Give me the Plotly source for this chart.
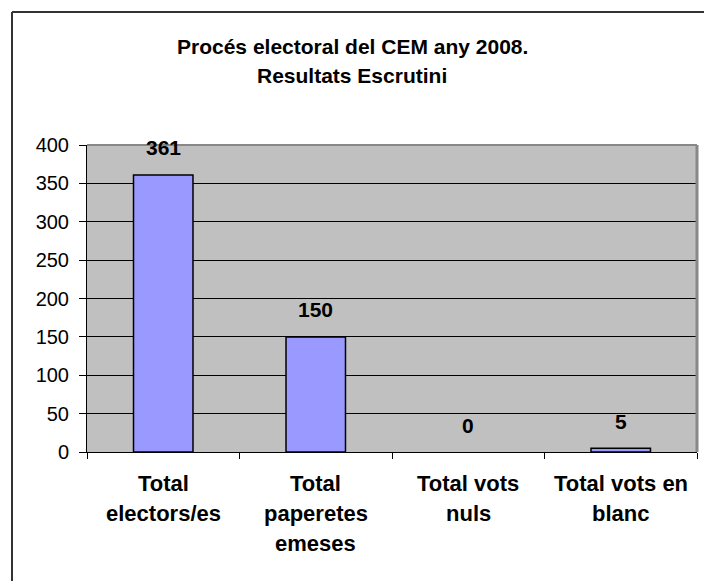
import plotly.graph_objects as go

categories = ["Total electors/es", "Total paperetes emeses", "Total vots nuls", "Total vots en blanc"]
label_lines = [["Total", "electors/es"], ["Total", "paperetes", "emeses"], ["Total vots", "nuls"], ["Total vots en", "blanc"]]
values = [361, 150, 0, 5]
title_lines = ["Procés electoral del CEM any 2008.", "Resultats Escrutini"]
y_ticks = [0, 50, 100, 150, 200, 250, 300, 350, 400]

FONT = "Liberation Sans, Arial, sans-serif"
W, H = 704, 581
L, R, T, B = 87, 7, 145, 129
pw, ph = W - L - R, H - T - B

fig = go.Figure()
fig.add_trace(go.Bar(
    x=categories, y=values, width=0.39,
    marker=dict(color="#9999FF",
                line=dict(color="black", width=[1.5 if v > 0 else 0 for v in values])),
    hoverinfo="skip",
))

annotations = []
for c, v in zip(categories, values):
    annotations.append(dict(x=c, y=v, xref="x", yref="y", text="<b>%d</b>" % v,
                            showarrow=False, yanchor="middle", yshift=27,
                            font=dict(family=FONT, size=21, color="black")))
for c, lines in zip(categories, label_lines):
    for j, ln in enumerate(lines):
        annotations.append(dict(x=c, y=0, xref="x", yref="paper", text="<b>%s</b>" % ln,
                                showarrow=False, yanchor="middle", yshift=-(31 + 30 * j),
                                font=dict(family=FONT, size=22, color="black")))
tx = (352 - L) / pw
for j, ln in enumerate(title_lines):
    yy = (H - B - (46 + 30 * j)) / ph
    annotations.append(dict(x=tx, y=yy, xref="paper", yref="paper", text="<b>%s</b>" % ln,
                            showarrow=False, xanchor="center", yanchor="middle",
                            font=dict(family=FONT, size=21, color="black")))

bx = (12 - L) / pw
by = (H - B - 12) / ph
shapes = [
    # outer chart border: left and top edges (right/bottom lie outside the window)
    dict(type="line", xref="paper", yref="paper", x0=bx, x1=bx, y0=-B / ph, y1=by,
         line=dict(color="#333333", width=2), layer="above"),
    dict(type="line", xref="paper", yref="paper", x0=bx, x1=(W - L) / pw, y0=by, y1=by,
         line=dict(color="#333333", width=2), layer="above"),
    # plot area top and right borders
    dict(type="line", xref="paper", yref="paper", x0=0, x1=1, y0=1, y1=1,
         line=dict(color="#888888", width=2), layer="above"),
    dict(type="line", xref="paper", yref="paper", x0=1, x1=1, y0=0, y1=1,
         line=dict(color="#888888", width=3), layer="above"),
]

fig.update_layout(
    width=W, height=H,
    margin=dict(l=L, r=R, t=T, b=B, pad=0),
    paper_bgcolor="white", plot_bgcolor="#C0C0C0",
    showlegend=False, bargap=0.61,
    font=dict(family=FONT, color="black"),
    annotations=annotations, shapes=shapes,
    xaxis=dict(type="category", range=[-0.5, 3.5], showticklabels=False,
               ticks="outside", tickson="boundaries", ticklen=6, tickcolor="black", tickwidth=1,
               showline=True, linecolor="black", linewidth=1, showgrid=False, zeroline=False,
               fixedrange=True),
    yaxis=dict(range=[0, 400], tickvals=y_ticks, ticks="outside", ticklen=7,
               tickcolor="black", tickwidth=1, showline=True, linecolor="black", linewidth=1,
               showgrid=True, gridcolor="black", gridwidth=1, zeroline=False,
               tickfont=dict(family=FONT, size=20, color="black"), ticklabelstandoff=6,
               fixedrange=True),
)

fig.write_html("out.html", config={"displayModeBar": False},
               post_script="document.body.style.margin='0';document.body.style.overflow='hidden';")
